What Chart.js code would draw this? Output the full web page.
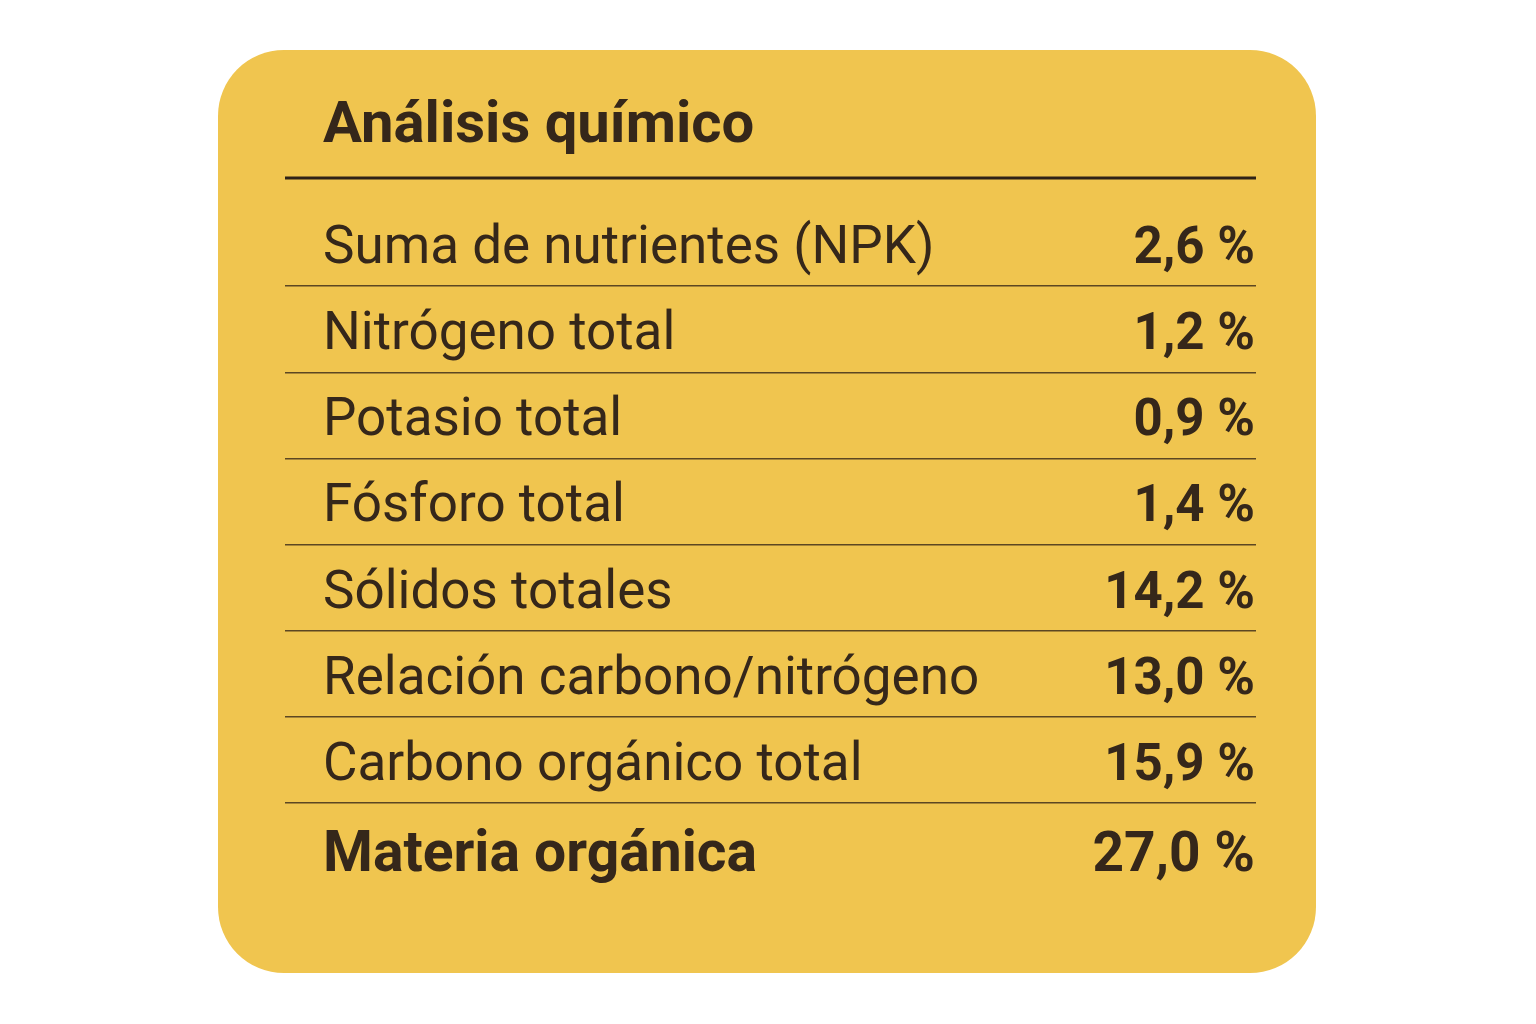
<!DOCTYPE html>
<html>
<head>
<meta charset="utf-8">
<script src="https://cdn.jsdelivr.net/npm/chart.js@4/dist/chart.umd.min.js"></script>
<style>
  html, body { margin: 0; padding: 0; background: #ffffff; }
  canvas { display: block; }
</style>
</head>
<body>
<canvas id="chart" width="1536" height="1024"></canvas>
<script>
// Data
const title = 'Análisis químico';
const categories = [
    'Suma de nutrientes (NPK)',
    'Nitrógeno total',
    'Potasio total',
    'Fósforo total',
    'Sólidos totales',
    'Relación carbono/nitrógeno',
    'Carbono orgánico total',
    'Materia orgánica'
];
const values = [2.6, 1.2, 0.9, 1.4, 14.2, 13.0, 15.9, 27.0];
const unit = '%';
const boldRows = [7];

const ink = '#35271a';
const fmt = v => v.toLocaleString('es-ES', { minimumFractionDigits: 1, maximumFractionDigits: 1 }) + ' ' + unit;

// Card, title and text cells
const tablePlugin = {
    id: 'table',
    beforeDraw(chart) {
        const ctx = chart.ctx;
        const area = chart.chartArea;
        ctx.save();
        // card
        ctx.fillStyle = '#f0c54f';
        ctx.beginPath();
        ctx.roundRect(218, 50, 1098, 923, 66);
        ctx.fill();
        // title
        ctx.fillStyle = ink;
        ctx.font = 'bold 58px Roboto';
        ctx.textBaseline = 'alphabetic';
        ctx.textAlign = 'left';
        ctx.fillText(title, area.left + 38, 142);
        // header rule
        ctx.strokeStyle = '#2e2217';
        ctx.lineWidth = 3;
        ctx.beginPath();
        ctx.moveTo(area.left, 178);
        ctx.lineTo(area.right, 178);
        ctx.stroke();
        ctx.restore();
    },
    afterDatasetsDraw(chart) {
        const ctx = chart.ctx;
        const area = chart.chartArea;
        const y = chart.scales.y;
        ctx.save();
        ctx.fillStyle = ink;
        ctx.textBaseline = 'alphabetic';
        categories.forEach((name, i) => {
            const bold = boldRows.includes(i);
            const py = y.getPixelForValue(i) + (bold ? 25 : 20);
            ctx.textAlign = 'left';
            ctx.font = bold ? 'bold 57px Roboto' : '53px Roboto';
            ctx.fillText(name, area.left + 38, py);
            ctx.textAlign = 'right';
            ctx.font = bold ? 'bold 55px Roboto' : 'bold 51px Roboto';
            ctx.fillText(fmt(values[i]), area.right - 1, py);
        });
        ctx.restore();
    }
};

new Chart(document.getElementById('chart'), {
    type: 'bar',
    data: {
        labels: categories,
        datasets: [{
            data: values,
            backgroundColor: 'rgba(0,0,0,0)'
        }]
    },
    options: {
        indexAxis: 'y',
        responsive: false,
        devicePixelRatio: 1,
        animation: false,
        layout: { padding: { left: 285, right: 280, top: 200, bottom: 135 } },
        plugins: { legend: { display: false }, tooltip: { enabled: false } },
        scales: {
            x: { display: false, min: 0 },
            y: {
                grid: {
                    offset: true,
                    drawTicks: false,
                    lineWidth: 1.5,
                    // only the lines between rows
                    color: c => (c.type !== 'tick' || c.index === 0) ? 'rgba(0,0,0,0)' : '#5c4722'
                },
                border: { display: false },
                ticks: { display: false }
            }
        }
    },
    plugins: [tablePlugin]
});
</script>
</body>
</html>
